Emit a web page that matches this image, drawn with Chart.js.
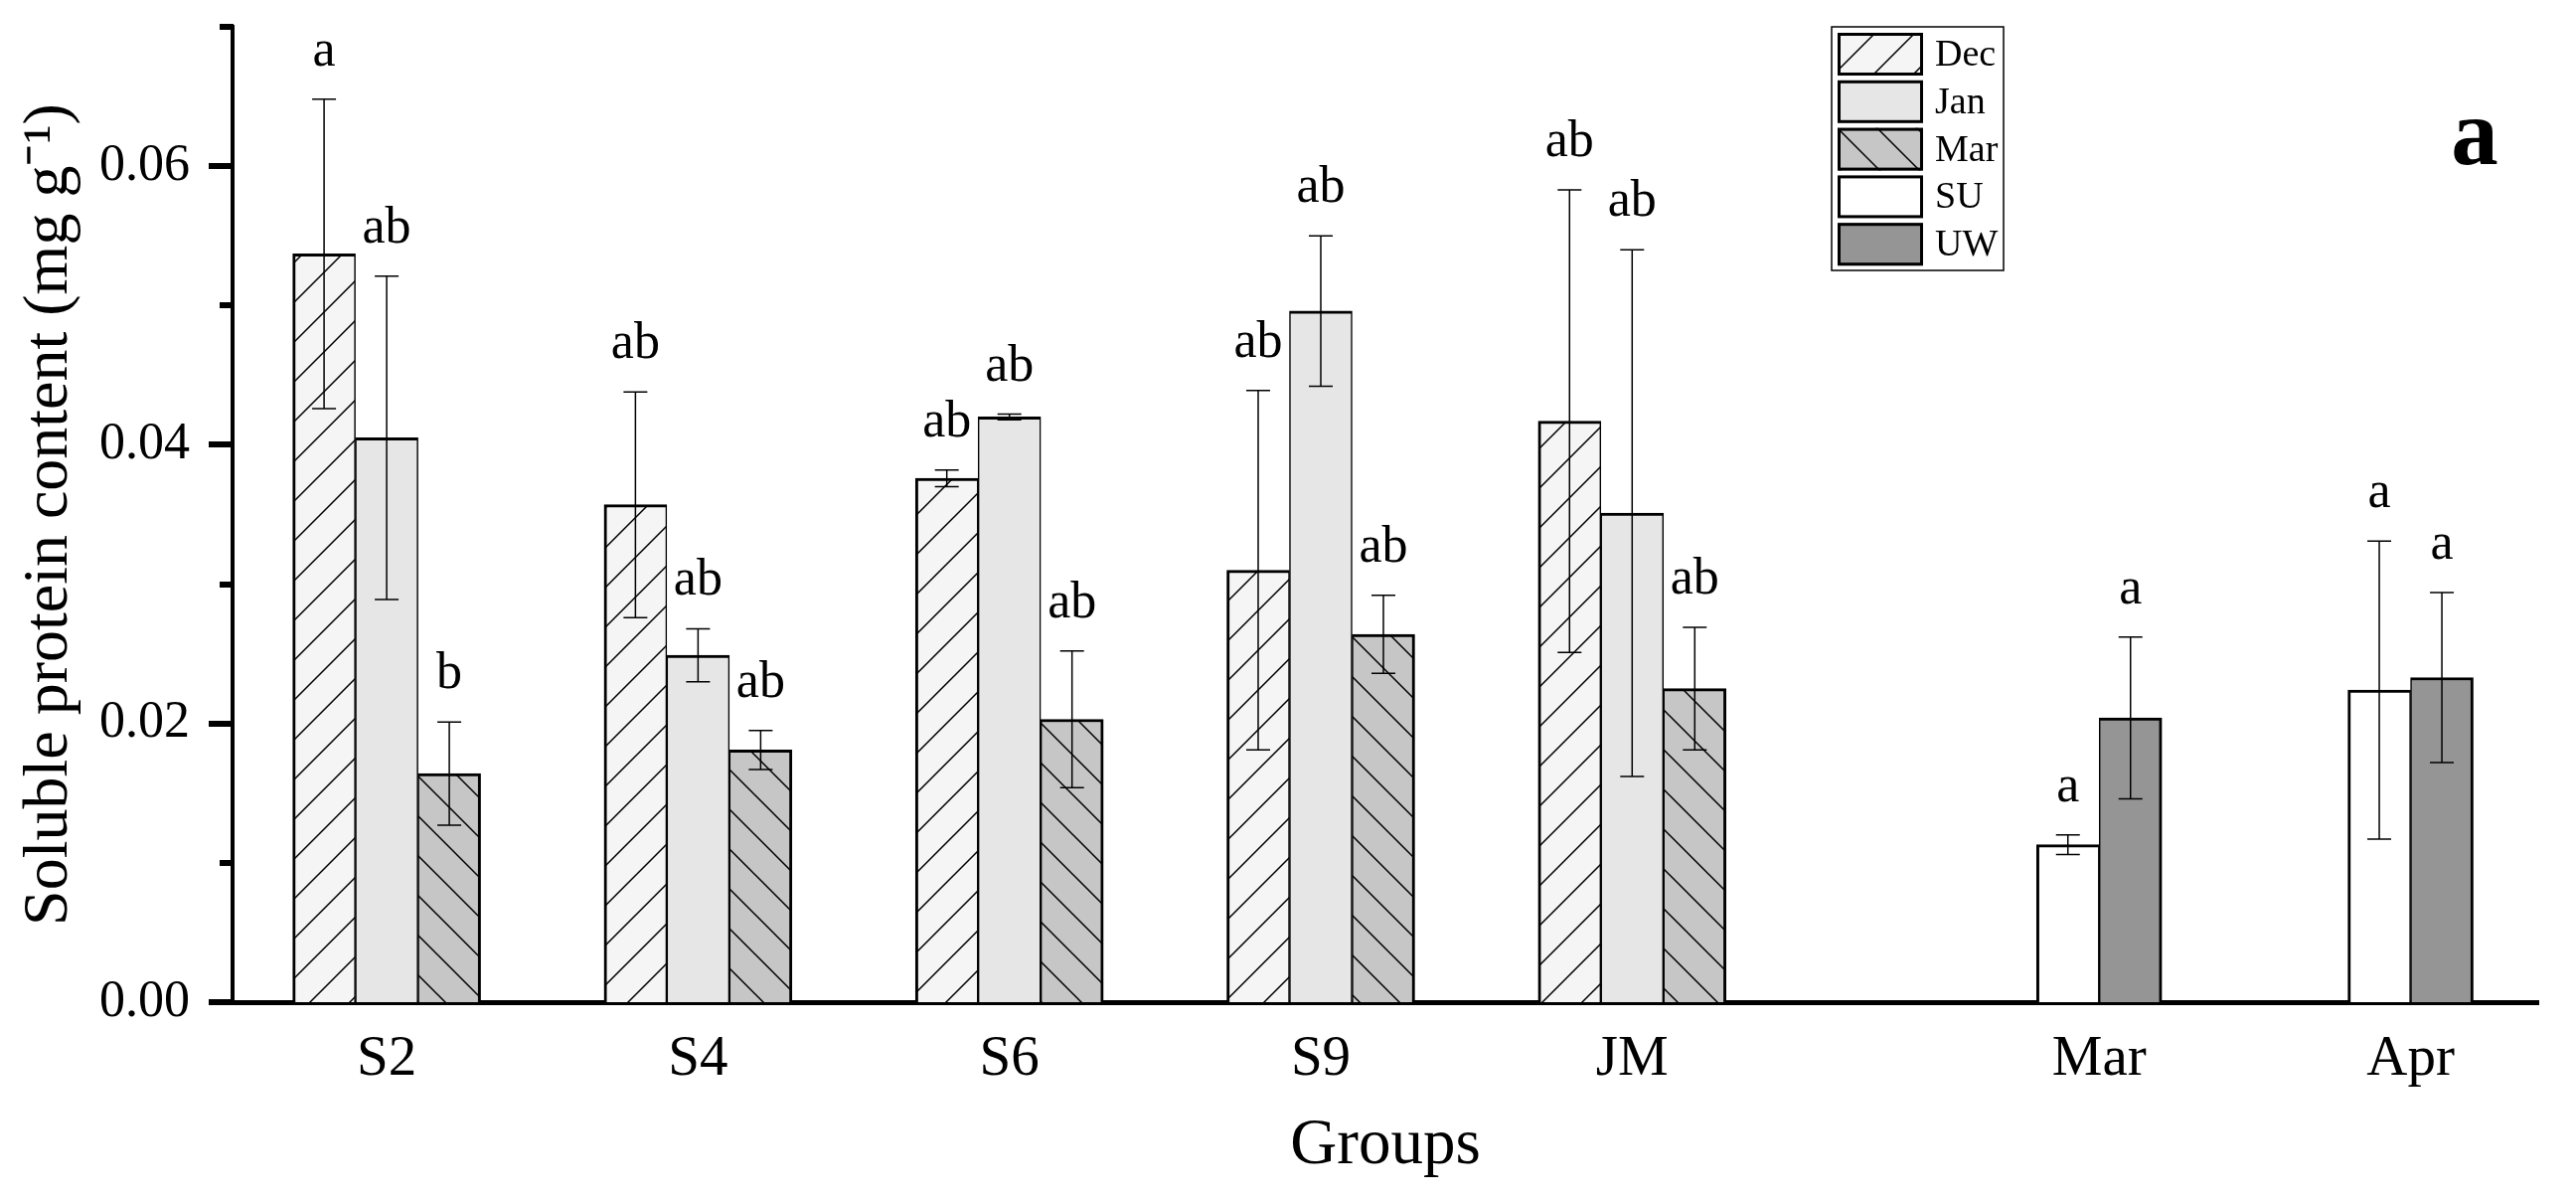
<!DOCTYPE html>
<html>
<head>
<meta charset="utf-8">
<script src="https://cdn.jsdelivr.net/npm/chart.js"></script>
<style>
  html, body { margin: 0; padding: 0; background: #fff; }
  #wrap { width: 2592px; height: 1209px; }
</style>
</head>
<body>
<div id="wrap"><canvas id="proteinChart"></canvas></div>
<script>
// groups on the x axis and where they sit (Mar/Apr are set apart by half a step)
const groups = ['S2', 'S4', 'S6', 'S9', 'JM', 'Mar', 'Apr'];
const groupX = [1, 2, 3, 4, 5, 6.5, 7.5];

// soluble protein content (mg g-1), mean and error
const decMean = [0.0537, 0.0357, 0.0376, 0.0310, 0.0417, null, null];
const decErr  = [0.0111, 0.0081, 0.0006, 0.0129, 0.0166, null, null];
const decLetters = ['a', 'ab', 'ab', 'ab', 'ab', null, null];

const janMean = [0.0405, 0.0249, 0.0420, 0.0496, 0.0351, null, null];
const janErr  = [0.0116, 0.0019, 0.0002, 0.0054, 0.0189, null, null];
const janLetters = ['ab', 'ab', 'ab', 'ab', 'ab', null, null];

const marMean = [0.0164, 0.0181, 0.0203, 0.0264, 0.0225, null, null];
const marErr  = [0.0037, 0.0014, 0.0049, 0.0028, 0.0044, null, null];
const marLetters = ['b', 'ab', 'ab', 'ab', 'ab', null, null];

const suMean = [null, null, null, null, null, 0.0113, 0.0224];
const suErr  = [null, null, null, null, null, 0.0007, 0.0107];
const suLetters = [null, null, null, null, null, 'a', 'a'];

const uwMean = [null, null, null, null, null, 0.0204, 0.0233];
const uwErr  = [null, null, null, null, null, 0.0058, 0.0061];
const uwLetters = [null, null, null, null, null, 'a', 'a'];

// y axis: ticks every 0.01, labels only on these
const yTickValues = [0, 0.01, 0.02, 0.03, 0.04, 0.05, 0.06, 0.07];
const yLabelled = [0, 0.02, 0.04, 0.06];

const FONT = 'Liberation Serif';
const canvas = document.getElementById('proteinChart');
const ctx = canvas.getContext('2d');

function hatch(color, dir) {
  const s = 40;
  const c = document.createElement('canvas');
  c.width = s; c.height = s;
  const g = c.getContext('2d');
  g.fillStyle = color;
  g.fillRect(0, 0, s, s);
  if (dir) {
    g.strokeStyle = '#000';
    g.lineWidth = 1.5;
    g.beginPath();
    for (let k = -1; k <= 2; k++) {
      if (dir === '/') {
        g.moveTo(-1, k * s + 1);
        g.lineTo(s + 1, k * s - s - 1);
      } else {
        g.moveTo(-1, k * s - 1);
        g.lineTo(s + 1, k * s + s + 1);
      }
    }
    g.stroke();
  }
  return ctx.createPattern(c, 'repeat');
}

function series(mean) {
  return mean.map((v, i) => ({ x: groupX[i], y: v }));
}

const isMajor = v => yLabelled.some(t => Math.abs(t - v) < 1e-9);

const common = {
  borderColor: '#000',
  borderSkipped: 'start',
  barThickness: 63,
  skipNull: true,
  grouped: true
};

const decorations = {
  id: 'decorations',
  afterDatasetsDraw(chart) {
    const c = chart.ctx;
    const y = chart.scales.y;
    c.save();
    chart.data.datasets.forEach((ds, di) => {
      const meta = chart.getDatasetMeta(di);
      meta.data.forEach((bar, i) => {
        const m = ds.data[i].y;
        if (m == null) return;
        const e = ds.errors[i];
        const top = y.getPixelForValue(m + e);
        const bot = y.getPixelForValue(m - e);
        c.strokeStyle = '#000';
        c.lineWidth = 1.5;
        c.beginPath();
        c.moveTo(bar.x, top); c.lineTo(bar.x, bot);
        c.moveTo(bar.x - 12, top); c.lineTo(bar.x + 12, top);
        c.moveTo(bar.x - 12, bot); c.lineTo(bar.x + 12, bot);
        c.stroke();
        if (ds.letters[i]) {
          c.fillStyle = '#000';
          c.font = '52px "' + FONT + '"';
          c.textAlign = 'center';
          c.textBaseline = 'alphabetic';
          c.fillText(ds.letters[i], bar.x, top - 34);
        }
      });
    });
    c.restore();
  },
  afterDraw(chart) {
    const c = chart.ctx;
    const y = chart.scales.y;
    const left = chart.chartArea.left;
    c.save();
    // y axis tick marks, long on labelled values, short between
    c.fillStyle = '#000';
    yTickValues.forEach(v => {
      const py = Math.round(y.getPixelForValue(v));
      const len = isMajor(v) ? 24 : 13;
      c.fillRect(left - len, py - 3, len + 1, 6);
    });

    // legend box
    const lx = 1843, ly = 27, lw = 173, lh = 245;
    c.strokeStyle = '#000';
    c.lineWidth = 1.5;
    c.strokeRect(lx, ly, lw, lh);
    c.font = '38px "' + FONT + '"';
    c.textAlign = 'left';
    c.textBaseline = 'middle';
    chart.data.datasets.forEach((ds, i) => {
      const sy = ly + 6 + i * 47.8;
      c.fillStyle = ds.backgroundColor;
      c.fillRect(1849, sy, 86, 43);
      c.lineWidth = 3;
      c.strokeStyle = '#000';
      c.strokeRect(1850.5, sy + 1.5, 83, 40);
      c.fillStyle = '#000';
      c.fillText(ds.label, 1947, sy + 23);
    });

    // panel letter
    c.font = 'bold 95px "' + FONT + '"';
    c.textAlign = 'center';
    c.textBaseline = 'alphabetic';
    c.fillText('a', 2490, 165);
    c.restore();
  }
};

new Chart(ctx, {
  type: 'bar',
  data: {
    datasets: [
      Object.assign({ label: 'Dec', data: series(decMean), errors: decErr, letters: decLetters,
        backgroundColor: hatch('#f5f5f5', '/'), borderWidth: { top: 3, left: 3, right: 1.5, bottom: 0 } }, common),
      Object.assign({ label: 'Jan', data: series(janMean), errors: janErr, letters: janLetters,
        backgroundColor: hatch('#e6e6e6', null), borderWidth: { top: 3, left: 1.5, right: 1.5, bottom: 0 } }, common),
      Object.assign({ label: 'Mar', data: series(marMean), errors: marErr, letters: marLetters,
        backgroundColor: hatch('#c6c6c6', '\\'), borderWidth: { top: 3, left: 1.5, right: 3, bottom: 0 } }, common),
      Object.assign({ label: 'SU', data: series(suMean), errors: suErr, letters: suLetters,
        backgroundColor: hatch('#ffffff', null), borderWidth: { top: 3, left: 3, right: 1.5, bottom: 0 } }, common),
      Object.assign({ label: 'UW', data: series(uwMean), errors: uwErr, letters: uwLetters,
        backgroundColor: hatch('#959595', null), borderWidth: { top: 3, left: 1.5, right: 3, bottom: 0 } }, common)
    ]
  },
  options: {
    responsive: true,
    maintainAspectRatio: false,
    animation: false,
    layout: { padding: { top: 27, right: 38, bottom: 0, left: 0 } },
    plugins: {
      legend: { display: false },
      tooltip: { enabled: false }
    },
    scales: {
      x: {
        type: 'linear',
        min: 0.505,
        max: 7.91,
        offset: false,
        afterBuildTicks: s => { s.ticks = groupX.map(v => ({ value: v })); },
        afterFit: s => { s.height = 201; },
        ticks: {
          autoSkip: false,
          maxRotation: 0,
          padding: 24,
          color: '#000',
          font: { family: FONT, size: 57 },
          callback: v => groups[groupX.indexOf(v)]
        },
        grid: { display: false, drawTicks: false },
        border: { display: true, color: '#000', width: 5 },
        title: {
          display: true,
          text: 'Groups',
          color: '#000',
          font: { family: FONT, size: 65 },
          padding: { top: 0, bottom: 17 }
        }
      },
      y: {
        type: 'linear',
        min: 0,
        max: 0.07,
        afterBuildTicks: s => { s.ticks = yTickValues.map(v => ({ value: v })); },
        afterFit: s => { s.width = 234; s.paddingTop = 0; s.paddingBottom = 0; },
        ticks: {
          autoSkip: false,
          padding: 20,
          color: '#000',
          font: { family: FONT, size: 52, lineHeight: 1 },
          callback: v => isMajor(v) ? v.toFixed(2) : ''
        },
        grid: { display: false, drawTicks: true, tickLength: 23 },
        border: { display: true, color: '#000', width: 4 },
        title: {
          display: true,
          text: 'Soluble protein content (mg g\u207B\u00B9)',
          color: '#000',
          font: { family: FONT, size: 64 },
          padding: { top: 12, bottom: 0 }
        }
      }
    }
  },
  plugins: [decorations]
});
</script>
</body>
</html>
